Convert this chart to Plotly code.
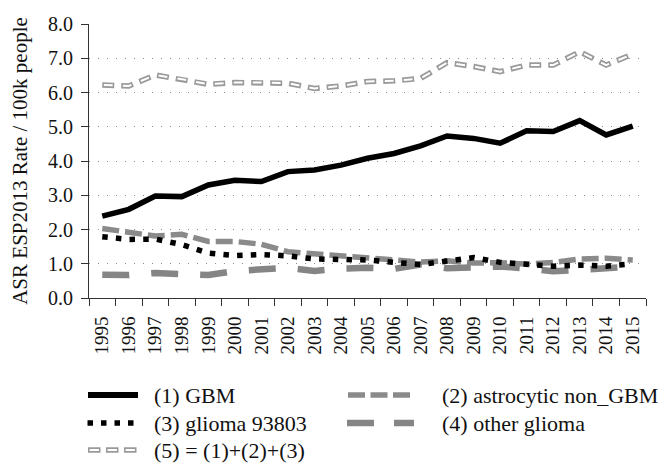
import plotly.graph_objects as go

# ---------------- data ----------------
years = [str(y) for y in range(1995, 2016)]
gbm = [2.39, 2.59, 2.98, 2.96, 3.30, 3.44, 3.40, 3.69, 3.74, 3.88, 4.08,
       4.22, 4.44, 4.73, 4.66, 4.52, 4.88, 4.86, 5.18, 4.76, 5.02]
astro = [2.03, 1.90, 1.81, 1.86, 1.65, 1.65, 1.57, 1.35, 1.29, 1.21, 1.14,
         1.09, 1.05, 1.09, 1.02, 1.03, 0.99, 1.04, 1.14, 1.16, 1.11]
glioma = [1.79, 1.71, 1.72, 1.56, 1.31, 1.24, 1.27, 1.23, 1.14, 1.13, 1.11,
          1.04, 0.98, 1.08, 1.18, 1.04, 0.97, 0.93, 0.96, 0.93, 1.00]
other = [0.68, 0.67, 0.73, 0.72, 0.67, 0.79, 0.83, 0.88, 0.79, 0.86, 0.88,
         0.85, 0.98, 0.87, 0.89, 0.92, 0.86, 0.78, 0.82, 0.88, 0.92]
total = [6.22, 6.19, 6.51, 6.39, 6.24, 6.29, 6.29, 6.27, 6.12, 6.19, 6.32,
         6.34, 6.41, 6.87, 6.76, 6.61, 6.80, 6.80, 7.19, 6.80, 7.12]

names = ["(1) GBM", "(2) astrocytic non_GBM", "(3) glioma 93803",
         "(4) other glioma", "(5) = (1)+(2)+(3)"]
y_title = "ASR ESP2013 Rate / 100k people"

# ---------------- styles ----------------
FONT = "Liberation Serif, Times New Roman, DejaVu Serif, serif"
AX = "#333333"
GRAY2 = "#8a8a8a"
GRAY4 = "#858585"
GRAY5 = "#9a9a9a"

OFF = 8                      # page body margin of the html page
W, H = 671 - OFF, 472 - 2 * OFF
L, R, T = 81, 25, 16
B = int(round(H - (298.3 - OFF)))   # plot bottom at page y = 298.3
PW, PH = W - L - R, H - T - B


def fx(p):
    return (p - OFF - L) / PW


def fy(p):
    return (H - B - (p - OFF)) / PH


fig = go.Figure()

# (5) total: outlined dashes (grey outer + white inner)
fig.add_trace(go.Scatter(x=years, y=total, mode="lines", name=names[4],
                         line=dict(color=GRAY5, width=5.5, dash="12px,7px"),
                         showlegend=False, hoverinfo="skip"))
fig.add_trace(go.Scatter(x=years, y=total, mode="lines", name=names[4],
                         line=dict(color="white", width=2,
                                   dash="0px,1.6px,8.8px,8.6px"),
                         showlegend=False, hoverinfo="skip"))
# (1) GBM
fig.add_trace(go.Scatter(x=years, y=gbm, mode="lines", name=names[0],
                         line=dict(color="black", width=5.5),
                         showlegend=False))
# (4) other glioma
fig.add_trace(go.Scatter(x=years, y=other, mode="lines", name=names[3],
                         line=dict(color=GRAY4, width=6.5, dash="27px,22px"),
                         showlegend=False))
# (2) astrocytic non_GBM
fig.add_trace(go.Scatter(x=years, y=astro, mode="lines", name=names[1],
                         line=dict(color=GRAY2, width=5.5, dash="17px,6px"),
                         showlegend=False))
# (3) glioma 93803
fig.add_trace(go.Scatter(x=years, y=glioma, mode="lines", name=names[2],
                         line=dict(color="black", width=5.5,
                                   dash="5.5px,8.2px"),
                         showlegend=False))

# ---------------- manual legend ----------------
shapes = []
annotations = []
rows = [395, 423, 450]
c1x0, c1x1, c1t = 88, 138, 152
c2x0, c2x1, c2t = 348, 410, 440


def seg(x0, x1, yp, color, width, dash="solid"):
    shapes.append(dict(type="line", xref="paper", yref="paper",
                       x0=fx(x0), x1=fx(x1), y0=fy(yp), y1=fy(yp),
                       line=dict(color=color, width=width, dash=dash)))


seg(c1x0, c1x1, rows[0], "black", 6)
seg(87.5, 134, rows[1], "black", 5.5, "5.5px,8px")
seg(c1x0, c1x0 + 49, rows[2], GRAY5, 5.5, "12.5px,5.5px")
seg(c1x0, c1x0 + 49, rows[2], "white", 2, "0px,1.6px,9.3px,7.1px")
seg(c2x0, c2x1, rows[0], GRAY2, 5.5, "17px,5.5px")
seg(c2x0 - 1, c2x1 + 4, rows[1], GRAY4, 6.5, "27px,20px")

for (tx, yp, txt) in [(c1t, rows[0], names[0]), (c1t, rows[1], names[2]),
                      (c1t, rows[2], names[4]), (c2t, rows[0], names[1]),
                      (c2t, rows[1], names[3])]:
    annotations.append(dict(text=txt, xref="paper", yref="paper",
                            x=fx(tx), y=fy(yp), xanchor="left",
                            yanchor="middle", showarrow=False,
                            font=dict(family=FONT, size=22, color="#111")))

fig.update_layout(
    width=W, height=H,
    margin=dict(l=L, r=R, t=T, b=B, autoexpand=False),
    paper_bgcolor="white", plot_bgcolor="white",
    font=dict(family=FONT, size=20, color="#111"),
    showlegend=False,
    shapes=shapes,
    annotations=annotations,
    xaxis=dict(type="category", categoryorder="array", categoryarray=years,
               range=[-0.5, 20.5], tickson="boundaries", ticks="outside",
               ticklen=7, tickwidth=1, tickcolor=AX, showline=True,
               linecolor=AX, linewidth=1, tickangle=-90, showgrid=False,
               tickfont=dict(family=FONT, size=19, color="#111"),
               ticklabelstandoff=10, automargin=False, fixedrange=True),
    yaxis=dict(range=[0, 8], tick0=0, dtick=1, tickformat=".1f",
               ticks="outside", ticklen=7, tickwidth=1, tickcolor=AX,
               showline=True, linecolor=AX, linewidth=1, zeroline=False,
               showgrid=True, gridcolor="#8c8c8c", gridwidth=1,
               griddash="1px,8px",
               tickfont=dict(family=FONT, size=20, color="#111"),
               ticklabelstandoff=4, automargin=False, fixedrange=True,
               title=dict(text=y_title, standoff=14,
                          font=dict(family=FONT, size=21, color="#111"))),
)

fig.write_html("out.html")
